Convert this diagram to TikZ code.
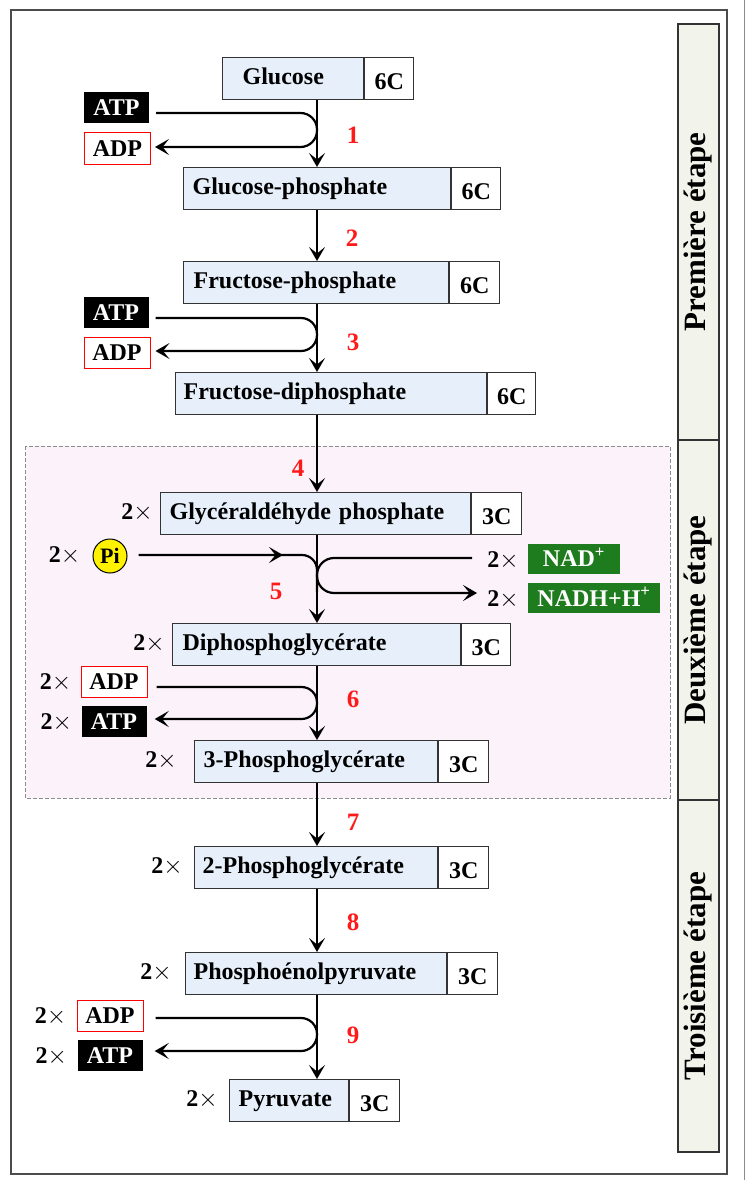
\documentclass[tikz,border=0pt]{standalone}
\usepackage{fontspec}
\setmainfont{Liberation Serif}
\usetikzlibrary{arrows.meta,calc}
\definecolor{boxblue}{HTML}{E6EFFA}
\definecolor{pinkbg}{HTML}{FCF3FA}
\definecolor{stagefill}{HTML}{F2F4EC}
\definecolor{nadgreen}{HTML}{1E7B1E}
\definecolor{numred}{HTML}{FF1A1A}
\definecolor{edge}{HTML}{333333}
\newcommand{\twotimes}{2$\times$}
\begin{document}
\begin{tikzpicture}[x=1pt,y=-1pt,
  every node/.style={font=\fontsize{24}{28}\selectfont\bfseries},
  namebox/.style={draw=edge, line width=1.2pt, fill=boxblue, minimum height=42pt,
    text height=16pt, text depth=5pt, align=left, anchor=north west, inner ysep=0pt},
  cbox/.style={draw=edge, line width=1.2pt, fill=white, minimum height=42pt,
    text height=22pt, text depth=0pt, anchor=north west, inner sep=0pt},
  atpbox/.style={fill=black, text=white, minimum width=65pt, minimum height=31pt,
    inner sep=0pt, text height=16pt, text depth=0pt},
  adpbox/.style={draw=red, line width=1pt, fill=white, minimum width=66pt, minimum height=31pt,
    inner sep=0pt, text height=16pt, text depth=0pt},
  nadbox/.style={fill=nadgreen, text=white, minimum height=30pt, inner sep=0pt,
    text height=16pt, text depth=0pt},
  twox/.style={inner sep=0pt, anchor=base east},
  numlbl/.style={text=numred, inner sep=0pt, font=\fontsize{25}{28}\selectfont\bfseries},
  stage/.style={draw=edge, line width=1.2pt, fill=stagefill, minimum height=41pt, inner sep=0pt,
    rotate=90, font=\fontsize{31}{36}\selectfont\bfseries},
  flow/.style={line width=2.2pt, draw=black},
  arr/.style={flow, -{Stealth[length=14pt, width=16pt, inset=6.5pt]}},
  loopline/.style={flow, -{Stealth[length=14pt, width=16pt, inset=6.5pt]}}
]
\useasboundingbox (0,0) rectangle (750,1180);
% frame
\draw[draw=black!70, line width=1.5pt] (11,10) rectangle (727,1174);
\draw[draw=black!45, line width=1pt] (744,0) -- (744,1180);
% second stage background
\draw[draw=black!45, dashed, line width=0.9pt, fill=pinkbg, dash pattern=on 4pt off 2pt] (25,446) rectangle (670,798);

% stage labels
\node[stage, minimum width=416pt] (s1) at (698.5,232) {Première étape};
\node[stage, minimum width=360pt] (s2) at (698.5,620) {Deuxième étape};
\node[stage, minimum width=352pt] (s3) at (698.5,976) {Troisième étape};

% molecule boxes
\node[namebox, text width=101pt, inner xsep=20pt] (gl) at (222,57) {Glucose};
\node[cbox, minimum width=49pt] (glc) at (gl.north east) {6C};
\node[namebox, text width=249pt, inner xsep=9pt] (gp) at (183,167) {Glucose-phosphate};
\node[cbox, minimum width=49pt] (gpc) at (gp.north east) {6C};
\node[namebox, text width=245pt, inner xsep=10pt] (fp) at (183,261) {Fructose-phosphate};
\node[cbox, minimum width=50pt] (fpc) at (fp.north east) {6C};
\node[namebox, text width=295pt, inner xsep=8pt] (fdp) at (175,372) {Fructose-diphosphate};
\node[cbox, minimum width=48pt] (fdpc) at (fdp.north east) {6C};
\node[namebox, text width=292pt, inner xsep=9pt] (gap) at (160,492) {Glycéraldéhyde phosphate};
\node[cbox, minimum width=50pt] (gapc) at (gap.north east) {3C};
\node[namebox, text width=268pt, inner xsep=10pt] (dpg) at (172,623) {Diphosphoglycérate};
\node[cbox, minimum width=49pt] (dpgc) at (dpg.north east) {3C};
\node[namebox, text width=225pt, inner xsep=9pt] (pg3) at (194,740) {3-Phosphoglycérate};
\node[cbox, minimum width=50pt] (pg3c) at (pg3.north east) {3C};
\node[namebox, text width=227pt, inner xsep=8pt] (pg2) at (194,846) {2-Phosphoglycérate};
\node[cbox, minimum width=50pt] (pg2c) at (pg2.north east) {3C};
\node[namebox, text width=245pt, inner xsep=8pt] (pep) at (185,952) {Phosphoénolpyruvate};
\node[cbox, minimum width=50pt] (pepc) at (pep.north east) {3C};
\node[namebox, text width=101pt, inner xsep=9pt] (pyr) at (229,1079) {Pyruvate};
\node[cbox, minimum width=50pt] (pyrc) at (pyr.north east) {3C};

% 2x labels on molecules
\node[twox] (m5) at ($(gap.base west)+(-7,0)$) {\twotimes};
\node[twox] (m6) at ($(dpg.base west)+(-7,0)$) {\twotimes};
\node[twox] (m7) at ($(pg3.base west)+(-17,0)$) {\twotimes};
\node[twox] (m8) at ($(pg2.base west)+(-11,0)$) {\twotimes};
\node[twox] (m9) at ($(pep.base west)+(-13,0)$) {\twotimes};
\node[twox] (m10) at ($(pyr.base west)+(-11,0)$) {\twotimes};

% cofactors
\node[atpbox] (atp1) at (116.5,107.5) {ATP};
\node[adpbox] (adp1) at (117.5,148.5) {ADP};
\node[atpbox] (atp3) at (116,312.5) {ATP};
\node[adpbox] (adp3) at (117,352.5) {ADP};
\node[adpbox] (adp6) at (114,681.5) {ADP};
\node[atpbox] (atp6) at (114,721) {ATP};
\node[adpbox] (adp9) at (110,1015.5) {ADP};
\node[atpbox] (atp9) at (110,1055.5) {ATP};
\node[twox] (x6a) at ($(adp6.base west)+(-9,0)$) {\twotimes};
\node[twox] (x6b) at ($(atp6.base west)+(-9,0)$) {\twotimes};
\node[twox] (x9a) at ($(adp9.base west)+(-10,0)$) {\twotimes};
\node[twox] (x9b) at ($(atp9.base west)+(-10,0)$) {\twotimes};

\node[circle, draw=black, line width=1pt, fill=yellow, minimum size=34pt, inner sep=0pt,
  font=\fontsize{22}{26}\selectfont\bfseries] (pi) at (110,556) {Pi};
\node[twox, anchor=east] (xpi) at ($(pi.west)+(-12,0)$) {\twotimes};
\node[nadbox, minimum width=92pt] (nad) at (574,558.5) {NAD\textsuperscript{+}};
\node[nadbox, minimum width=132pt] (nadh) at (594,598) {NADH+H\textsuperscript{+}};
\node[twox, anchor=east] (xnad) at ($(nad.west)+(-9,2)$) {\twotimes};
\node[twox, anchor=east] (xnadh) at ($(nadh.west)+(-9,2)$) {\twotimes};

% step numbers
\node[numlbl] (n1) at (353,135) {1};
\node[numlbl] (n2) at (352,238) {2};
\node[numlbl] (n3) at (353,342) {3};
\node[numlbl] (n4) at (298,468) {4};
\node[numlbl] (n5) at (276,591) {5};
\node[numlbl] (n6) at (353,699) {6};
\node[numlbl] (n7) at (353,822) {7};
\node[numlbl] (n8) at (353,922) {8};
\node[numlbl] (n9) at (353,1035) {9};

% main spine
\coordinate (sp) at (317,0);
\draw[arr] (gl.south -| sp) -- (gp.north -| sp);
\draw[arr] (gp.south -| sp) -- (fp.north -| sp);
\draw[arr] (fp.south -| sp) -- (fdp.north -| sp);
\draw[arr] (fdp.south -| sp) -- (gap.north -| sp);
\draw[arr] (gap.south -| sp) -- (dpg.north -| sp);
\draw[arr] (dpg.south -| sp) -- (pg3.north -| sp);
\draw[arr] (pg3.south -| sp) -- (pg2.north -| sp);
\draw[arr] (pg2.south -| sp) -- (pep.north -| sp);
\draw[arr] (pep.south -| sp) -- (pyr.north -| sp);

% ATP/ADP loops
\coordinate (c1a) at (317,113); \coordinate (c1b) at (317,147);
\draw[loopline, rounded corners=16.5pt] ($(atp1.east |- c1a)+(7,0)$) -- (c1a) -- (c1b) -- ($(adp1.east |- c1b)+(4,0)$);
\coordinate (c3a) at (317,318); \coordinate (c3b) at (317,351);
\draw[loopline, rounded corners=16pt] ($(atp3.east |- c3a)+(7,0)$) -- (c3a) -- (c3b) -- ($(adp3.east |- c3b)+(5,0)$);
\coordinate (c6a) at (317,687); \coordinate (c6b) at (317,719);
\draw[loopline, rounded corners=15.5pt] ($(adp6.east |- c6a)+(9,0)$) -- (c6a) -- (c6b) -- ($(atp6.east |- c6b)+(8,0)$);
\coordinate (c9a) at (317,1018); \coordinate (c9b) at (317,1051);
\draw[loopline, rounded corners=16pt] ($(adp9.east |- c9a)+(12,0)$) -- (c9a) -- (c9b) -- ($(atp9.east |- c9b)+(12,0)$);

% Pi merge and NAD loop
\coordinate (c5a) at (317,555); \coordinate (c5b) at (317,592);
\draw[flow, rounded corners=15pt] ($(pi.east |- c5a)+(11,0)$) -- (c5a) -- (c5b);
\draw[arr] ($(pi.east |- c5a)+(11,0)$) -- ($(c5a)+(-34,0)$);
\coordinate (c5c) at (317,558); \coordinate (c5d) at (317,593);
\draw[loopline, rounded corners=17pt] ($(xnad.west |- c5c)+(-15,0)$) -- (c5c) -- (c5d) -- ($(xnadh.west |- c5d)+(-10,0)$);
\end{tikzpicture}
\end{document}
